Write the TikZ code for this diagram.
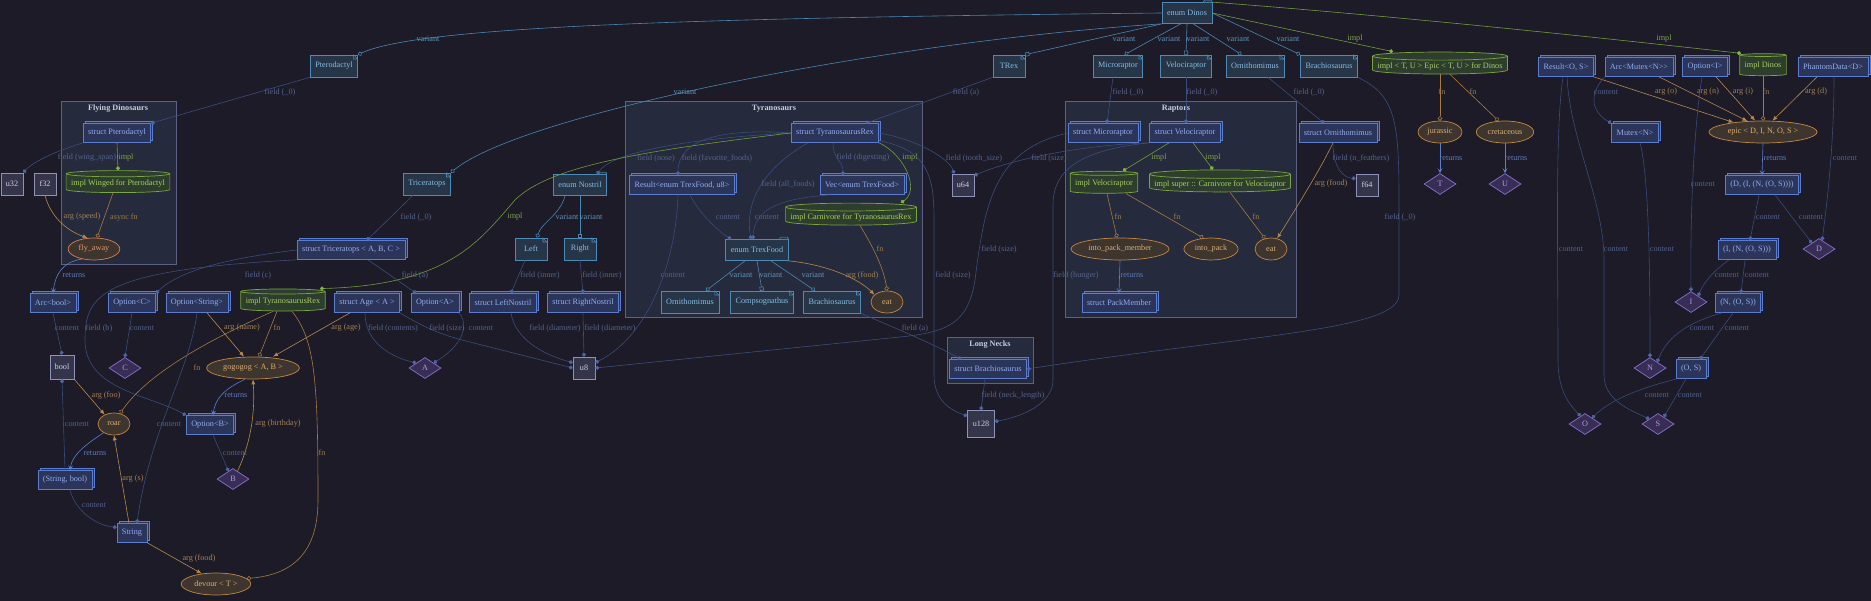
\documentclass[tikz,border=0pt]{standalone}
\usepackage{fontspec}
\setmainfont{Liberation Serif}
\usetikzlibrary{shapes.geometric,arrows.meta,shadows}

\definecolor{bg}{HTML}{1C1B27}
\definecolor{cCluFill}{HTML}{252A3C}
\definecolor{cClu}{HTML}{5C6183}
\definecolor{tClu}{HTML}{C9CCE3}
\definecolor{cVarFill}{HTML}{263548}
\definecolor{cVarBox}{HTML}{4B8BB6}
\definecolor{tVarBox}{HTML}{86BDE3}
\definecolor{cStructFill}{HTML}{2B3459}
\definecolor{cStruct}{HTML}{5A7DD0}
\definecolor{tStruct}{HTML}{93AEF0}
\definecolor{cImplFill}{HTML}{2E3E2C}
\definecolor{cImplBox}{HTML}{79A640}
\definecolor{tImplBox}{HTML}{A6CF63}
\definecolor{cFnFill}{HTML}{3E352E}
\definecolor{cFnBox}{HTML}{C2893F}
\definecolor{tFnBox}{HTML}{DCAE72}
\definecolor{cAsync}{HTML}{D47D55}
\definecolor{tAsync}{HTML}{E29A70}
\definecolor{cPrimFill}{HTML}{34354A}
\definecolor{cPrim}{HTML}{8F92B8}
\definecolor{tPrim}{HTML}{CFD0E6}
\definecolor{cGenFill}{HTML}{372D55}
\definecolor{cGen}{HTML}{8D6FCC}
\definecolor{tGen}{HTML}{B497EA}
% edges
\definecolor{cField}{HTML}{3B4D7C}
\definecolor{cDot}{HTML}{4D64A6}
\definecolor{cVar}{HTML}{4A86B3}
\definecolor{cImpl}{HTML}{6F9C3B}
\definecolor{cImplDot}{HTML}{82B447}
\definecolor{cFn}{HTML}{A67A40}
\definecolor{cArg}{HTML}{B88A4C}
\definecolor{cRet}{HTML}{5B7FC9}
\definecolor{cCont}{HTML}{3A4B7A}
\definecolor{tField}{HTML}{55638F}
\definecolor{tVar}{HTML}{5E95BD}
\definecolor{tImpl}{HTML}{80A34B}
\definecolor{tFn}{HTML}{9C7A4A}
\definecolor{tArg}{HTML}{A58255}
\definecolor{tRet}{HTML}{5E7CBF}
\definecolor{tCont}{HTML}{52608F}

\tikzset{
  base/.style={font=\fontsize{8.2pt}{9pt}\selectfont, inner xsep=5pt, inner ysep=0pt},
  variantbox/.style={base, draw=cVarBox, fill=cVarFill, text=tVarBox, line width=0.7pt,
    minimum width=32pt, minimum height=22pt,
    path picture={\fill[bg] ([xshift=-4pt]path picture bounding box.north east)
      -- (path picture bounding box.north east) -- ([yshift=-4pt]path picture bounding box.north east) -- cycle;
      \draw[cVarBox, line width=0.6pt] ([xshift=-4pt]path picture bounding box.north east)
      |- ([yshift=-4pt]path picture bounding box.north east) -- cycle;}},
  enumbox/.style={base, draw=cVarBox, fill=cVarFill, text=tVarBox, line width=0.7pt,
    minimum width=32pt, minimum height=21pt},
  enumtab/.style={draw=cVarBox, fill=cVarFill, line width=0.6pt},
  structbox/.style={base, draw=cStruct, fill=cStructFill, text=tStruct, line width=0.7pt,
    minimum width=30pt, minimum height=19pt,
    general shadow={shadow xshift=2pt, shadow yshift=2pt, fill=cStructFill, draw=cStruct, line width=0.7pt}},
  implbox/.style={base, cylinder, shape border rotate=90, aspect=0.06, draw=cImplBox, fill=cImplFill,
    text=tImplBox, line width=0.7pt, minimum height=22pt},
  fnbox/.style={base, ellipse, draw=cFnBox, fill=cFnFill, text=tFnBox, line width=0.7pt,
    inner xsep=3pt, minimum width=32pt, minimum height=22pt},
  asyncbox/.style={fnbox, draw=cAsync, text=tAsync},
  primbox/.style={base, draw=cPrim, fill=cPrimFill, text=tPrim, line width=0.7pt,
    minimum size=22pt, inner sep=0pt},
  genbox/.style={base, diamond, aspect=1.5, draw=cGen, fill=cGenFill, text=tGen, line width=0.7pt,
    minimum width=32pt, minimum height=21pt, inner sep=0pt},
  cluster/.style={draw=cClu, fill=cCluFill, line width=0.8pt},
  clutitle/.style={base, font=\fontsize{8.2pt}{9pt}\selectfont\bfseries, text=tClu},
  lbl/.style={base, inner sep=0pt},
  edge/.style={line width=0.6pt},
  field/.style={edge, draw=cField, -{Circle[length=4pt, color=cDot]}, every node/.append style={text=tField}},
  content/.style={edge, draw=cCont, -{Circle[length=4pt, color=cDot]}, every node/.append style={text=tCont}},
  variant/.style={edge, draw=cVar, -{Circle[open, length=4.5pt]}, every node/.append style={text=tVar}},
  variantsq/.style={variant, -{Square[open, length=4pt]}},
  impl/.style={edge, draw=cImpl, -{Circle[length=4pt, color=cImplDot]}, every node/.append style={text=tImpl}},
  fn/.style={edge, draw=cFn, -{Circle[open, length=4.5pt]}, every node/.append style={text=tFn}},
  arg/.style={edge, draw=cArg, -{Latex[length=5pt, width=4pt]}, every node/.append style={text=tArg}},
  returns/.style={edge, draw=cRet, -{Stealth[length=5pt, width=5pt, inset=2.5pt]}, every node/.append style={text=tRet}},
}

\begin{document}
\begin{tikzpicture}[x=1pt,y=-1pt]
\fill[bg] (0,0) rectangle (1871,601);
\useasboundingbox (0,0) rectangle (1871,601);

% clusters
\draw[cluster] (61,101) rectangle (176,264);
\node[clutitle] (flying) at (118,109) {Flying Dinosaurs};
\draw[cluster] (625,101) rectangle (922,317);
\node[clutitle] (tyrano) at (774,109) {Tyranosaurs};
\draw[cluster] (1065,101) rectangle (1296,317);
\node[clutitle] (raptors) at (1176,109) {Raptors};
\draw[cluster] (947,337) rectangle (1033,383);
\node[clutitle] (necks) at (990,345) {Long Necks};

% enums
\node[enumbox] (dinos) at (1187,13) {enum Dinos};
\node[enumbox] (nostril) at (580,185) {enum Nostril};
\node[enumbox] (trexfood) at (757,250) {enum TrexFood};
\foreach \n in {dinos,nostril,trexfood}
  \draw[enumtab] ([xshift=-9pt]\n.north east) -- ++(1pt,2pt) -- ++(7pt,0) -- ++(1pt,-2pt);

% variants
\node[variantbox] (ptero) at (334,66) {Pterodactyl};
\node[variantbox] (trico) at (427,184) {Triceratops};
\node[variantbox] (trex) at (1009,66) {TRex};
\node[variantbox] (micro) at (1118,66) {Microraptor};
\node[variantbox] (velo) at (1186,66) {Velociraptor};
\node[variantbox] (ornith) at (1255,66) {Ornithomimus};
\node[variantbox] (brachio) at (1329,66) {Brachiosaurus};
\node[variantbox] (left) at (531,249) {Left};
\node[variantbox] (right) at (580,249) {Right};
\node[variantbox] (ornith2) at (690,302) {Ornithomimus};
\node[variantbox] (compso) at (762,302) {Compsognathus};
\node[variantbox] (brachio2) at (832,302) {Brachiosaurus};

% structs and other types
\node[structbox] (sptero) at (117,133) {struct Pterodactyl};
\node[structbox] (strex) at (835,133) {struct TyranosaurusRex};
\node[structbox] (result) at (682,185) {Result<enum TrexFood, u8>};
\node[structbox] (vec) at (862,185) {Vec<enum TrexFood>};
\node[structbox] (smicro) at (1103,133) {struct Microraptor};
\node[structbox] (svelo) at (1185,133) {struct Velociraptor};
\node[structbox] (sornith) at (1338,133) {struct Ornithomimus};
\node[structbox] (strico) at (351,250) {struct Triceratops < A, B, C >};
\node[structbox] (arcbool) at (53,303) {Arc<bool>};
\node[structbox] (optc) at (132,303) {Option<C>};
\node[structbox] (optstring) at (197,303) {Option<String>};
\node[structbox] (sage) at (367,303) {struct Age < A >};
\node[structbox] (opta) at (435,303) {Option<A>};
\node[structbox] (lnostril) at (503,303) {struct LeftNostril};
\node[structbox] (rnostril) at (583,303) {struct RightNostril};
\node[structbox] (packmember) at (1119,303) {struct PackMember};
\node[structbox] (sbrachio) at (988,369) {struct Brachiosaurus};
\node[structbox] (optb) at (210,425) {Option<B>};
\node[structbox] (stringbool) at (65,480) {(String, bool)};
\node[structbox] (string) at (132,533) {String};
\node[structbox] (resultos) at (1566,67) {Result<O, S>};
\node[structbox] (arcmutex) at (1639,67) {Arc<Mutex<N>{}>};
\node[structbox] (opti) at (1705,67) {Option<I>};
\node[structbox] (phantom) at (1833,67) {PhantomData<D>};
\node[structbox] (mutex) at (1635,133) {Mutex<N>};
\node[structbox] (tupled) at (1762,185) {(D, (I, (N, (O, S))))};
\node[structbox] (tuplei) at (1747,250) {(I, (N, (O, S)))};
\node[structbox] (tuplen) at (1738,303) {(N, (O, S))};
\node[structbox] (tupleos) at (1691,369) {(O, S)};

% impls
\node[implbox] (winged) at (118,184) {impl Winged for Pterodactyl};
\node[implbox] (implcarn) at (851,217) {impl Carnivore for TyranosaurusRex};
\node[implbox] (implrex) at (283,302) {impl TyranosaurusRex};
\node[implbox] (implvelo) at (1104,184) {impl Velociraptor};
\node[implbox] (implsuper) at (1220,184) {impl super :: Carnivore for Velociraptor};
\node[implbox] (epicimpl) at (1440,66) {impl < T, U > Epic < T, U > for Dinos};
\node[implbox] (impldinos) at (1763,66) {impl Dinos};

% functions
\node[asyncbox] (flyaway) at (94,249) {fly\_away};
\node[fnbox] (gogogog) at (253,368) {gogogog < A, B >};
\node[fnbox] (roar) at (114,424) {roar};
\node[fnbox] (devour) at (216,584) {devour < T >};
\node[fnbox] (eat) at (887,302) {eat};
\node[fnbox] (ipm) at (1120,249) {into\_pack\_member};
\node[fnbox] (intopack) at (1211,249) {into\_pack};
\node[fnbox] (eatv) at (1271,249) {eat};
\node[fnbox] (jurassic) at (1440,132) {jurassic};
\node[fnbox] (cretaceous) at (1505,132) {cretaceous};
\node[fnbox] (epic) at (1763,132) {epic < D, I, N, O, S >};

% primitives
\node[primbox] (u32) at (12,184) {u32};
\node[primbox] (f32) at (45,184) {f32};
\node[primbox] (u64) at (963,185) {u64};
\node[primbox] (f64) at (1367,185) {f64};
\node[primbox, minimum size=24pt] (bool) at (62,367) {bool};
\node[primbox] (u8) at (584,368) {u8};
\node[primbox, minimum size=27pt] (u128) at (981,424) {u128};

% generics
\node[genbox] (T) at (1440,184) {T};
\node[genbox] (U) at (1505,184) {U};
\node[genbox] (C) at (125,368) {C};
\node[genbox] (A) at (425,368) {A};
\node[genbox] (B) at (233,479) {B};
\node[genbox] (D) at (1819,249) {D};
\node[genbox] (I) at (1691,302) {I};
\node[genbox] (N) at (1650,368) {N};
\node[genbox] (O) at (1585,424) {O};
\node[genbox] (S) at (1658,424) {S};

% enum Dinos
\draw[variant] (dinos.west) .. controls (700,18) and (420,26) .. (ptero.north east) node[lbl] at (428,39) {variant};
\draw[variant] (dinos.south west) .. controls (880,42) and (520,115) .. (trico.north east) node[lbl] at (685,92) {variant};
\draw[variantsq] (dinos.south west) -- (trex.north east) node[lbl] at (1124,39) {variant};
\draw[variant] (dinos.240) -- (micro.60) node[lbl] at (1169,39) {variant};
\draw[variantsq] (dinos.south) -- (velo.north) node[lbl] at (1198,39) {variant};
\draw[variant] (dinos.300) -- (ornith.140) node[lbl] at (1238,39) {variant};
\draw[variant] (dinos.east) -- (brachio.north west) node[lbl] at (1288,39) {variant};
\draw[impl] (dinos.east) -- ([xshift=-47pt]epicimpl.north) node[lbl] at (1355,39) {impl};
\draw[impl] (dinos.north east) .. controls (1420,18) and (1620,40) .. ([xshift=-22pt]impldinos.north) node[lbl] at (1664,39) {impl};

% flying dinosaurs
\draw[field] (ptero.south west) -- (sptero.north east) node[lbl] at (280,92) {field (\_0)};
\draw[field] (sptero.south west) .. controls (60,150) and (35,160) .. (u32.north east) node[lbl] at (87,158) {field (wing\_span)};
\draw[impl] (sptero.south) -- (winged.north) node[lbl] at (126,158) {impl};
\draw[fn] ([xshift=-5pt]winged.south) -- (flyaway.75) node[lbl] at (124,217) {async fn};
\draw[arg] (f32.south) .. controls (50,215) and (65,230) .. (flyaway.120) node[lbl] at (82,217) {arg (speed)};
\draw[returns] (flyaway.220) .. controls (62,262) and (55,275) .. (arcbool.north) node[lbl] at (74,275) {returns};
\draw[content] (arcbool.south) -- (bool.north) node[lbl] at (67,328) {content};

% triceratops
\draw[field] ([xshift=-14pt]trico.south) -- ([xshift=16pt]strico.north) node[lbl] at (416,217) {field (\_0)};
\draw[field] (strico.west) .. controls (230,258) and (180,270) .. (optc.north east) node[lbl] at (258,275) {field (c)};
\draw[field] (strico.south west) .. controls (100,270) and (85,295) .. (85,340) .. controls (85,390) and (150,395) .. (optb.north west) node[lbl] at (99,328) {field (b)};
\draw[field] ([xshift=17pt]strico.south) -- ([xshift=-19pt]opta.north) node[lbl] at (415,275) {field (a)};
\draw[content] (optc.south) -- (C.north) node[lbl] at (142,328) {content};
\draw[content] (opta.south east) .. controls (472,330) and (455,350) .. (A.30) node[lbl] at (481,328) {content};
\draw[field] ([xshift=-2pt]sage.south) .. controls (365,345) and (395,358) .. (A.150) node[lbl] at (393,328) {field (contents)};
\draw[field] (sage.south east) .. controls (420,325) and (440,335) .. (470,342) -- (u8.west) node[lbl] at (447,328) {field (size)};

% nostrils
\draw[field] ([xshift=8pt]lnostril.south) .. controls (515,340) and (545,355) .. (u8.155) node[lbl] at (555,328) {field (diameter)};
\draw[field] (rnostril.south) -- (u8.north) node[lbl] at (610,328) {field (diameter)};
\draw[field] ([xshift=-6pt]left.south) -- ([xshift=8pt]lnostril.north) node[lbl] at (540,275) {field (inner)};
\draw[field] (right.south) -- (rnostril.north) node[lbl] at (602,275) {field (inner)};
\draw[variant] ([xshift=-15pt]nostril.south) .. controls (560,215) and (542,222) .. ([xshift=6pt]left.north) node[lbl] at (567,217) {variant};
\draw[variantsq] (nostril.south) -- (right.north) node[lbl] at (591,217) {variant};

% tyranosaurus
\draw[field] (strex.west) .. controls (700,138) and (615,150) .. ([xshift=-10pt]nostril.north east) node[lbl] at (656,158) {field (nose)};
\draw[field] (strex.west) .. controls (720,128) and (678,140) .. ([xshift=-4pt]result.north) node[lbl] at (717,158) {field (favorite\_foods)};
\draw[field] ([xshift=-2pt]strex.south) .. controls (833,160) and (843,160) .. ([xshift=-19pt]vec.north) node[lbl] at (863,158) {field (digesting)};
\draw[impl] (strex.south east) .. controls (905,155) and (920,190) .. ([xshift=50pt]implcarn.north) node[lbl] at (910,158) {impl};
\draw[impl] (strex.west) .. controls (650,150) and (550,165) .. (515,200) .. controls (480,240) and (450,285) .. ([xshift=37pt]implrex.north) node[lbl] at (515,217) {impl};
\draw[field] (strex.east) .. controls (920,140) and (950,160) .. ([xshift=-9pt]u64.north) node[lbl] at (974,158) {field (tooth\_size)};
\draw[field] (strex.-10) .. controls (930,150) and (934,180) .. (934,220) -- (934,375) .. controls (934,400) and (950,410) .. (u128.150) node[lbl] at (953,275) {field (size)};
\draw[field] ([xshift=-27pt]strex.south) .. controls (760,170) and (745,205) .. ([xshift=-6pt]trexfood.north) node[lbl] at (788,184) {field (all\_foods)};
\draw[content] ([xshift=-32pt]vec.south) .. controls (790,198) and (754,205) .. ([xshift=-4pt]trexfood.north) node[lbl] at (767,217) {content};
\draw[content] ([xshift=8pt]result.south) .. controls (700,215) and (720,232) .. ([xshift=-26pt]trexfood.north) node[lbl] at (728,217) {content};
\draw[content] ([xshift=-4pt]result.south) .. controls (676,260) and (650,335) .. (u8.25) node[lbl] at (673,275) {content};
\draw[variant] ([xshift=-12pt]trexfood.south) -- ([xshift=16pt]ornith2.north) node[lbl] at (741,275) {variant};
\draw[variantsq] (trexfood.south) -- (compso.north) node[lbl] at (771,275) {variant};
\draw[variant] ([xshift=14pt]trexfood.south) -- ([xshift=-17pt]brachio2.north) node[lbl] at (813,275) {variant};
\draw[arg] (trexfood.south east) .. controls (830,265) and (860,280) .. (eat.150) node[lbl] at (862,275) {arg (food)};
\draw[fn] ([xshift=9pt]implcarn.south) .. controls (875,250) and (884,270) .. (eat.north) node[lbl] at (880,249) {fn};
\draw[field] (brachio2.south east) .. controls (900,330) and (935,345) .. ([xshift=-27pt]sbrachio.north) node[lbl] at (915,328) {field (a)};

% raptors
\draw[field] (trex.south west) -- ([xshift=-13pt]strex.north east) node[lbl] at (966,92) {field (a)};
\draw[field] ([xshift=-5pt]micro.south) -- ([xshift=4pt]smicro.north) node[lbl] at (1128,92) {field (\_0)};
\draw[field] (velo.south) -- ([xshift=1pt]svelo.north) node[lbl] at (1202,92) {field (\_0)};
\draw[field] ([xshift=13pt]ornith.south) -- ([xshift=-14pt]sornith.north) node[lbl] at (1309,92) {field (\_0)};
\draw[field] (brachio.south east) .. controls (1395,95) and (1399,120) .. (1399,200) -- (1399,295) .. controls (1399,330) and (1250,335) .. (sbrachio.east) node[lbl] at (1400,217) {field (\_0)};
\draw[field] (smicro.west) .. controls (995,150) and (985,200) .. (975,280) .. controls (968,322) and (950,332) .. (900,337) -- (u8.east) node[lbl] at (999,249) {field (size)};
\draw[field] (svelo.south west) .. controls (1080,145) and (1010,160) .. (u64.40) node[lbl] at (1049,158) {field (size)};
\draw[field] (svelo.south west) .. controls (1080,150) and (1053,170) .. (1053,205) -- (1053,380) .. controls (1053,400) and (1030,415) .. (u128.10) node[lbl] at (1076,275) {field (hunger)};
\draw[impl] ([xshift=-16pt]svelo.south) -- ([xshift=19pt]implvelo.north) node[lbl] at (1159,158) {impl};
\draw[impl] ([xshift=8pt]svelo.south) -- ([xshift=-7pt]implsuper.north) node[lbl] at (1213,158) {impl};
\draw[fn] ([xshift=3pt]implvelo.south) -- ([xshift=-3pt]ipm.north) node[lbl] at (1118,217) {fn};
\draw[fn] ([xshift=22pt]implvelo.south) -- (intopack.125) node[lbl] at (1177,217) {fn};
\draw[fn] ([xshift=10pt]implsuper.south) -- (eatv.120) node[lbl] at (1256,217) {fn};
\draw[arg] ([xshift=-5pt]sornith.south) .. controls (1320,170) and (1295,210) .. (eatv.60) node[lbl] at (1331,184) {arg (food)};
\draw[field] ([xshift=-5pt]sornith.south) .. controls (1333,170) and (1345,178) .. (f64.150) node[lbl] at (1361,158) {field (n\_feathers)};
\draw[returns] (ipm.south) -- (packmember.north) node[lbl] at (1132,275) {returns};
\draw[field] ([xshift=-3pt]sbrachio.south) -- (u128.north) node[lbl] at (1013,395) {field (neck\_length)};

% epic
\draw[fn] (epicimpl.south) -- (jurassic.north) node[lbl] at (1442,92) {fn};
\draw[fn] ([xshift=10pt]epicimpl.south) -- (cretaceous.120) node[lbl] at (1473,92) {fn};
\draw[returns] (jurassic.south) -- (T.north) node[lbl] at (1451,158) {returns};
\draw[returns] (cretaceous.south) -- (U.north) node[lbl] at (1516,158) {returns};
\draw[fn] (impldinos.south) -- (epic.north) node[lbl] at (1766,92) {fn};
\draw[arg] (resultos.south east) -- (epic.162) node[lbl] at (1666,92) {arg (o)};
\draw[arg] ([xshift=20pt]arcmutex.south) -- (epic.145) node[lbl] at (1708,92) {arg (n)};
\draw[arg] ([xshift=11pt]opti.south) -- (epic.125) node[lbl] at (1743,92) {arg (i)};
\draw[arg] ([xshift=-16pt]phantom.south) -- (epic.50) node[lbl] at (1816,92) {arg (d)};
\draw[content] (arcmutex.south west) .. controls (1588,95) and (1592,112) .. (mutex.north west) node[lbl] at (1606,92) {content};
\draw[content] ([xshift=5pt]mutex.south) .. controls (1650,180) and (1650,300) .. (N.north) node[lbl] at (1662,249) {content};
\draw[returns] (epic.south) -- (tupled.north) node[lbl] at (1775,158) {returns};
\draw[content] ([xshift=-3pt]tupled.south) -- ([xshift=3pt]tuplei.north) node[lbl] at (1768,217) {content};
\draw[content] ([xshift=13pt]tupled.south) -- (D.140) node[lbl] at (1811,217) {content};
\draw[content] ([xshift=1pt]phantom.south) .. controls (1834,150) and (1826,210) .. (D.70) node[lbl] at (1845,158) {content};
\draw[content] ([xshift=-3pt]opti.south) .. controls (1695,120) and (1690,200) .. (I.north) node[lbl] at (1703,184) {content};
\draw[content] ([xshift=-18pt]tuplei.south) .. controls (1715,270) and (1705,280) .. (I.40) node[lbl] at (1727,275) {content};
\draw[content] ([xshift=-2pt]tuplei.south) -- ([xshift=3pt]tuplen.north) node[lbl] at (1757,275) {content};
\draw[content] ([xshift=-16pt]tuplen.south) .. controls (1690,322) and (1668,335) .. (N.40) node[lbl] at (1702,328) {content};
\draw[content] ([xshift=-5pt]tuplen.south) -- ([xshift=9pt]tupleos.north) node[lbl] at (1737,328) {content};
\draw[content] ([xshift=-14pt]tupleos.south) .. controls (1640,388) and (1610,400) .. (O.40) node[lbl] at (1657,395) {content};
\draw[content] ([xshift=-5pt]tupleos.south) -- (S.50) node[lbl] at (1690,395) {content};
\draw[content] ([xshift=-3pt]resultos.south) .. controls (1555,130) and (1558,250) .. (1558,360) .. controls (1558,392) and (1570,405) .. (O.120) node[lbl] at (1571,249) {content};
\draw[content] ([xshift=1pt]resultos.south) .. controls (1570,140) and (1604,200) .. (1604,260) -- (1604,375) .. controls (1604,400) and (1630,410) .. (S.150) node[lbl] at (1616,249) {content};

% TyranosaurusRex impl
\draw[fn] ([xshift=-6pt]implrex.south) -- ([xshift=6pt]gogogog.north) node[lbl] at (277,328) {fn};
\draw[fn] ([xshift=-10pt]implrex.south) .. controls (220,335) and (150,370) .. (roar.60) node[lbl] at (197,368) {fn};
\draw[fn] ([xshift=9pt]implrex.south) .. controls (315,340) and (318,380) .. (318,500) .. controls (318,560) and (285,575) .. (devour.10) node[lbl] at (322,453) {fn};
\draw[arg] ([xshift=10pt]optstring.south) -- ([xshift=-9pt]gogogog.north) node[lbl] at (242,328) {arg (name)};
\draw[arg] ([xshift=-17pt]sage.south) -- ([xshift=20pt]gogogog.north) node[lbl] at (346,328) {arg (age)};
\draw[arg] (B.60) .. controls (252,440) and (255,410) .. (gogogog.south) node[lbl] at (278,424) {arg (birthday)};
\draw[returns] (gogogog.235) .. controls (222,390) and (215,400) .. ([xshift=3pt]optb.north) node[lbl] at (236,395) {returns};
\draw[content] ([xshift=3pt]optb.south) -- (B.120) node[lbl] at (235,453) {content};
\draw[content] (optstring.south) .. controls (190,370) and (150,430) .. ([xshift=5pt]string.north) node[lbl] at (169,424) {content};
\draw[arg] (bool.south east) -- (roar.135) node[lbl] at (106,395) {arg (foo)};
\draw[arg] ([xshift=-3pt]string.north) -- (roar.south) node[lbl] at (133,479) {arg (s)};
\draw[returns] (roar.220) .. controls (85,445) and (72,455) .. ([xshift=5pt]stringbool.north) node[lbl] at (95,453) {returns};
\draw[content] ([xshift=5pt]stringbool.south) .. controls (75,510) and (95,525) .. (string.160) node[lbl] at (94,505) {content};
\draw[content] (stringbool.north) -- (bool.south) node[lbl] at (77,424) {content};
\draw[arg] (string.south east) -- (devour.144) node[lbl] at (199,558) {arg (food)};
\end{tikzpicture}
\end{document}
